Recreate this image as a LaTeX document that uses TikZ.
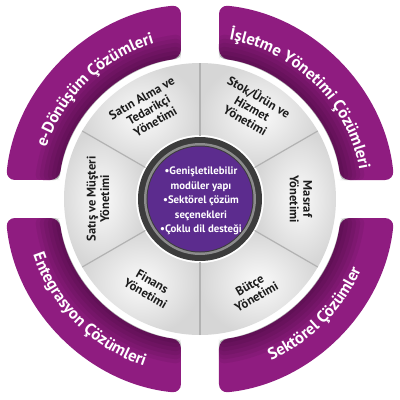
\documentclass[tikz,border=0pt]{standalone}
\usepackage{fontspec}
\setmainfont{PT Sans}
\usetikzlibrary{decorations.text}
\definecolor{bandpurple}{RGB}{143,28,128}
\definecolor{corepurple}{RGB}{92,44,142}
\definecolor{segtext}{RGB}{28,28,28}
\definecolor{ringdark}{RGB}{60,60,60}
\definecolor{ringlight}{RGB}{140,140,140}

% one quarter band (inner radius #1, outer radius #2), drawn in the top left quarter
\newcommand{\bandring}[2]{(-19,{(sqrt((#1)-19)*sqrt((#1)+19)+sqrt((#2)-19)*sqrt((#2)+19))/2}) -- (-19,{sqrt((#2)-19)*sqrt((#2)+19)}) arc[start angle={90+asin(19/(#2))}, end angle={180-asin(19/(#2))}, radius={#2}] -- ({-sqrt((#1)-19)*sqrt((#1)+19)},19) arc[start angle={180-asin(19/(#1))}, end angle={90+asin(19/(#1))}, radius={#1}] -- cycle}
\newcommand{\bandfont}{\bfseries\fontsize{16.5}{16.5}\selectfont}

\begin{document}
\begin{tikzpicture}[x=1pt, y=1pt,
  band/.style={fill=bandpurple, rounded corners=9pt},
  bandshadow/.style={fill=black, opacity=0.06, rounded corners=5pt},
  segment/.style={inner color=gray!4, outer color=gray!32},
  divider/.style={draw=gray!60, line width=1.2pt},
  segtext/.style={text=segtext, font=\bfseries\fontsize{12.5}{13.5}\selectfont, align=center, inner sep=0pt},
  coretext/.style={text=white, font=\bfseries\fontsize{10.8}{14.5}\selectfont, align=center, inner sep=0pt},
  bandtext/.style={decorate, decoration={text along path, text align=center, text color=white}}]

\useasboundingbox (-200,-201) rectangle (200,199);

% outer bands
\foreach \r in {0,-90,90,180} {
  \begin{scope}[rotate=\r]
    \fill[band] \bandring{142}{195};
    \foreach \k in {4,8,...,24}
      \fill[bandshadow] \bandring{142}{142+\k};
  \end{scope}
}

% band texts
\path[bandtext, decoration={text={|\bandfont|e-Dönüşüm Çözümleri}}] (172:162) arc[start angle=172, end angle=96, radius=162];
\path[bandtext, decoration={text={|\bandfont|İşletme Yönetimi Çözümleri}}] (86:162) arc[start angle=86, end angle=4, radius=162];
\path[bandtext, decoration={text={|\bandfont|Entegrasyon Çözümleri}}] (186:176) arc[start angle=186, end angle=264, radius=176];
\path[bandtext, decoration={text={|\bandfont|Sektörel Çözümler}}] (276:176) arc[start angle=276, end angle=354, radius=176];

% grey ring
\fill[white] (0,0) circle (138);
\foreach \a in {30,90,...,330}
  \shade[segment] (\a:64) arc[start angle=\a, end angle={\a+60}, radius=64] -- ({\a+60}:136) arc[start angle={\a+60}, end angle=\a, radius=136] -- cycle;
\foreach \a in {30,90,...,330}
  \draw[divider] (\a:63) -- (\a:136);

% core
\fill[ringdark] (0,0) circle (62);
\fill[ringlight] (0,0) circle (56);
\fill[ringdark] (0,0) circle (53.5);
\fill[corepurple] (0,0) circle (52.5);

% segment labels
\node[segtext, rotate=30] (satinalma) at (120:103) {Satın Alma ve\\Tedarikçi\\Yönetimi};
\node[segtext, rotate=-30] (stok) at (60:105) {Stok/Ürün ve\\Hizmet\\Yönetimi};
\node[segtext, rotate=-90] (masraf) at (0:101) {Masraf\\Yönetimi};
\node[segtext, rotate=30] (butce) at (-60:106) {Bütçe\\Yönetimi};
\node[segtext, rotate=-30] (finans) at (-120:102) {Finans\\Yönetimi};
\node[segtext, rotate=90] (satis) at (180:102) {Satış ve Müşteri\\Yönetimi};

% centre text
\node[coretext] (features) at (1,-2) {•Genişletilebilir\\modüler yapı\\•Sektörel çözüm\\seçenekleri\\•Çoklu dil desteği};

\end{tikzpicture}
\end{document}
